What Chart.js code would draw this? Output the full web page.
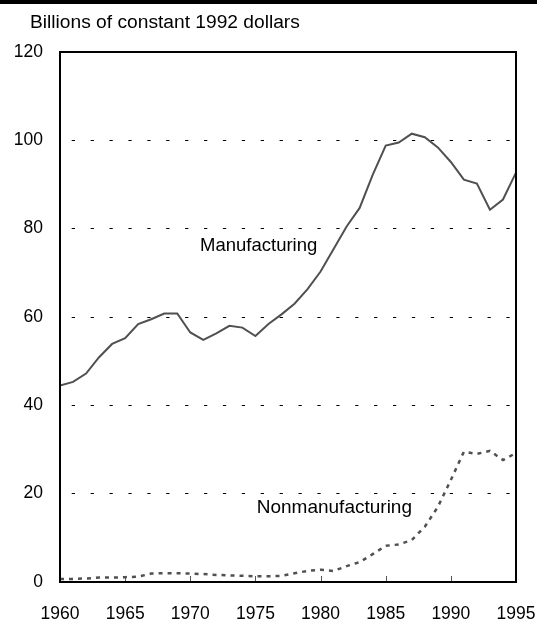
<!DOCTYPE html>
<html><head><meta charset="utf-8">
<script src="https://cdn.jsdelivr.net/npm/chart.js@4/dist/chart.umd.min.js"></script>
<style>
html,body{margin:0;padding:0;background:#fff;}
#wrap{position:relative;width:537px;height:622px;overflow:hidden;}
#bar{position:absolute;left:0;top:0;width:537px;height:4px;background:#000;}
#title{position:absolute;left:30px;top:12px;font-family:'Liberation Sans',Arial,sans-serif;font-size:19.2px;line-height:1;color:#000;white-space:nowrap;}
canvas{position:absolute;left:0;top:0;}
</style></head><body>
<div id="wrap"><canvas id="c" width="537" height="622"></canvas><div id="bar"></div><div id="title">Billions of constant 1992 dollars</div></div>
<script>
const years = [1960,1961,1962,1963,1964,1965,1966,1967,1968,1969,1970,1971,1972,1973,1974,1975,1976,1977,1978,1979,1980,1981,1982,1983,1984,1985,1986,1987,1988,1989,1990,1991,1992,1993,1994,1995];
const manufacturing = [44.5,45.3,47.2,50.9,53.9,55.2,58.4,59.5,60.8,60.8,56.5,54.8,56.3,58.0,57.6,55.7,58.4,60.6,63.0,66.3,70.3,75.4,80.5,84.7,92.2,98.8,99.5,101.5,100.7,98.4,95.1,91.1,90.2,84.3,86.6,92.7];
const nonmanufacturing = [0.7,0.7,0.8,1.0,1.0,1.1,1.2,1.9,2.0,2.0,1.9,1.8,1.6,1.5,1.4,1.3,1.3,1.4,2.0,2.5,2.8,2.5,3.6,4.5,6.3,8.2,8.5,9.5,12.5,17.0,23.1,29.5,29.0,29.7,27.6,29.2];
const xTickValues = [1960,1965,1970,1975,1980,1985,1990,1995];
const yTickValues = [0,20,40,60,80,100,120];
const seriesLabels = ['Manufacturing','Nonmanufacturing'];

const FONT = "'Liberation Sans', Arial, sans-serif";
const LINE = '#505050';

const framePlugin = {
  id: 'frame',
  afterDraw(chart) {
    const ctx = chart.ctx;
    const a = chart.chartArea;
    const xs = chart.scales.x, ys = chart.scales.y;
    ctx.save();
    ctx.strokeStyle = '#555';
    ctx.lineWidth = 1;
    xTickValues.slice(1, -1).forEach(v => {
      const px = Math.round(xs.getPixelForValue(v)) + 0.5;
      ctx.beginPath();
      ctx.moveTo(px, a.bottom);
      ctx.lineTo(px, a.bottom - 6);
      ctx.stroke();
    });
    ctx.strokeStyle = '#000';
    ctx.lineWidth = 2;
    ctx.strokeRect(a.left, a.top, a.right - a.left, a.bottom - a.top);
    ctx.fillStyle = '#000';
    ctx.textAlign = 'left';
    ctx.textBaseline = 'middle';
    ctx.font = '18.5px ' + FONT;
    ctx.fillText(seriesLabels[0], xs.getPixelForValue(1970.75), ys.getPixelForValue(76));
    ctx.font = '19px ' + FONT;
    ctx.fillText(seriesLabels[1], xs.getPixelForValue(1975.1), ys.getPixelForValue(16.7));
    ctx.restore();
  }
};

new Chart(document.getElementById('c'), {
  type: 'line',
  data: {
    datasets: [
      {
        label: seriesLabels[0],
        data: years.map((x, i) => ({x, y: manufacturing[i]})),
        borderColor: LINE, borderWidth: 2, pointRadius: 0, tension: 0, fill: false
      },
      {
        label: seriesLabels[1],
        data: years.map((x, i) => ({x, y: nonmanufacturing[i]})),
        borderColor: LINE, borderWidth: 2.5, borderDash: [4, 5], pointRadius: 0, tension: 0, fill: false
      }
    ]
  },
  options: {
    responsive: false,
    animation: false,
    devicePixelRatio: 1,
    layout: { padding: { top: 52, right: 21, left: 0, bottom: 0 } },
    plugins: { legend: { display: false }, tooltip: { enabled: false } },
    scales: {
      x: {
        type: 'linear', min: 1960, max: 1995,
        afterBuildTicks: s => { s.ticks = xTickValues.map(v => ({value: v})); },
        afterFit: s => { s.height = 40; s.paddingLeft = 0; s.paddingRight = 0; },
        grid: { display: false },
        border: { display: false },
        ticks: { font: { family: FONT, size: 17.5 }, color: '#000', padding: 14, maxRotation: 0, autoSkip: false, callback: v => String(v) }
      },
      y: {
        min: 0, max: 120,
        afterBuildTicks: s => { s.ticks = yTickValues.map(v => ({value: v})); },
        afterFit: s => { s.width = 60; s.paddingTop = 0; s.paddingBottom = 0; },
        grid: {
          drawTicks: false, lineWidth: 1,
          color: c => (c.tick && (c.tick.value === 0 || c.tick.value === 120)) ? 'rgba(0,0,0,0)' : '#000'
        },
        border: { display: false, dash: [3.3, 15.6], dashOffset: 7.2 },
        ticks: { font: { family: FONT, size: 17.5 }, color: '#000', padding: 17, callback: v => String(v) }
      }
    }
  },
  plugins: [framePlugin]
});
</script>
</body></html>
